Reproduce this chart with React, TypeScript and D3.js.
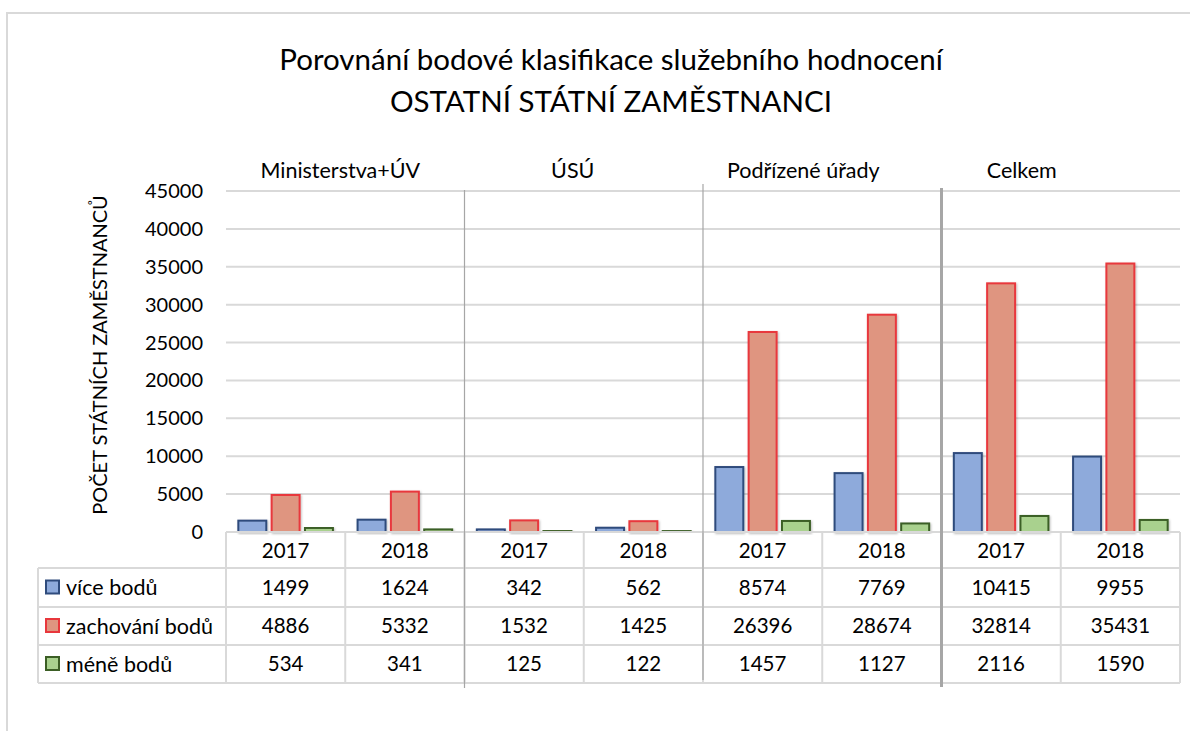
import React from "react";
import * as d3 from "d3";

const groups = ["Ministerstva+ÚV", "ÚSÚ", "Podřízené úřady", "Celkem"];
const years = ["2017", "2018"];
const seriesNames = ["více bodů", "zachování bodů", "méně bodů"];
const viceBodu = [1499, 1624, 342, 562, 8574, 7769, 10415, 9955];
const zachovaniBodu = [4886, 5332, 1532, 1425, 26396, 28674, 32814, 35431];
const meneBodu = [534, 341, 125, 122, 1457, 1127, 2116, 1590];
const yTicks = [0, 5000, 10000, 15000, 20000, 25000, 30000, 35000, 40000, 45000];
const titleLines = ["Porovnání bodové klasifikace služebního hodnocení", "OSTATNÍ STÁTNÍ ZAMĚSTNANCI"];
const yTitle = "POČET STÁTNÍCH ZAMĚSTNANCŮ";

const seriesValues = [viceBodu, zachovaniBodu, meneBodu];
const fills = ["#8eaadb", "#df9580", "#a9d18e"];
const strokes = ["#2f4b7c", "#e8373c", "#3b5e25"];

export default function App() {
  const W = 1190, H = 731;
  const left = 226, right = 1180, top = 191, bottom = 532;
  const font = "Lato, 'Open Sans', sans-serif";
  const cols = d3.range(groups.length * years.length);
  const x = d3.scaleBand<number>().domain(cols).range([left, right]).paddingInner(0).paddingOuter(0);
  const xs = d3.scaleBand<number>().domain([0, 1, 2]).range([0, x.bandwidth()]).paddingInner(0.16).paddingOuter(0.37);
  const y = d3.scaleLinear().domain([0, 45000]).range([bottom, top]);
  const rowBounds = [532, 568, 607, 645, 683];
  const legendLeft = 38;
  const groupLabelOffset = [-5, -11, -19, -39];
  const sepStyles = [
    { w: 1.2, c: "#a6a6a6", y0: 190, y1: 688 },
    { w: 1.2, c: "#a6a6a6", y0: 184, y1: 680 },
    { w: 3, c: "#a6a6a6", y0: 188, y1: 687 },
  ];
  const grid = "#d9d9d9";

  return (
    <svg width={W} height={H} style={{ position: "absolute", left: 0, top: 0, background: "#fff" }} fontFamily={font}>
      <defs>
        <filter id="sh" x="-20%" y="-20%" width="140%" height="140%">
          <feDropShadow dx="1" dy="1" stdDeviation="1.2" floodColor="#000" floodOpacity="0.25" />
        </filter>
      </defs>
      <rect x={7} y={13} width={1200} height={740} fill="#fff" stroke={grid} strokeWidth={2} />
      {titleLines.map((t, i) => (
        <text key={i} x={611} y={70 + i * 42} textAnchor="middle" fontSize={29.5} fill="#000">{t}</text>
      ))}
      {/* gridlines */}
      {yTicks.map((t) => (
        <line key={t} x1={left} x2={right} y1={y(t)} y2={y(t)} stroke={grid} strokeWidth={2} />
      ))}
      {/* y tick labels */}
      {yTicks.map((t) => (
        <text key={"l" + t} x={203} y={y(t)} dy="0.35em" textAnchor="end" fontSize={20} fill="#000">{t}</text>
      ))}
      <text transform={`translate(100,355) rotate(-90)`} textAnchor="middle" dy="0.35em" fontSize={20} fill="#000">{yTitle}</text>
      {/* group labels */}
      {groups.map((g, gi) => {
        const cx = (x(gi * 2) as number) + x.bandwidth() + groupLabelOffset[gi];
        return <text key={g} x={cx} y={170} dy="0.35em" textAnchor="middle" fontSize={21.5} fill="#000">{g}</text>;
      })}
      {/* bars */}
      {seriesValues.map((vals, si) =>
        vals.map((v, ci) => (
          <rect key={si + "-" + ci}
            x={(x(ci) as number) + (xs(si) as number)}
            y={y(v)}
            width={xs.bandwidth()}
            height={bottom - y(v)}
            fill={fills[si]} stroke={strokes[si]} strokeWidth={2} filter="url(#sh)" />
        ))
      )}
      {/* table lines */}
      <line x1={left} x2={right} y1={rowBounds[0]} y2={rowBounds[0]} stroke={grid} strokeWidth={2} />
      {rowBounds.slice(1).map((r) => (
        <line key={"r" + r} x1={legendLeft} x2={right} y1={r} y2={r} stroke={grid} strokeWidth={2} />
      ))}
      {cols.concat([cols.length]).map((c) => {
        const xx = c < cols.length ? (x(c) as number) : right;
        return <line key={"v" + c} x1={xx} x2={xx} y1={rowBounds[0]} y2={rowBounds[4]} stroke={grid} strokeWidth={2} />;
      })}
      <line x1={legendLeft} x2={legendLeft} y1={rowBounds[1]} y2={rowBounds[4]} stroke={grid} strokeWidth={2} />
      {/* year header */}
      {cols.map((c) => (
        <text key={"y" + c} x={(x(c) as number) + x.bandwidth() / 2} y={(rowBounds[0] + rowBounds[1]) / 2 + 1} dy="0.35em" textAnchor="middle" fontSize={20.5} fill="#000">{years[c % 2]}</text>
      ))}
      {/* table values */}
      {seriesValues.map((vals, si) => (
        <g key={"t" + si}>
          <rect x={46} y={(rowBounds[si + 1] + rowBounds[si + 2]) / 2 - 7} width={13} height={13} fill={fills[si]} stroke={strokes[si]} strokeWidth={2} />
          <text x={66} y={(rowBounds[si + 1] + rowBounds[si + 2]) / 2} dy="0.35em" fontSize={21.5} fill="#000">{seriesNames[si]}</text>
          {vals.map((v, ci) => (
            <text key={ci} x={(x(ci) as number) + x.bandwidth() / 2} y={(rowBounds[si + 1] + rowBounds[si + 2]) / 2} dy="0.35em" textAnchor="middle" fontSize={20.5} fill="#000">{v}</text>
          ))}
        </g>
      ))}
      {/* group separators */}
      {[1, 2, 3].map((gi, k) => {
        const xx = x(gi * 2) as number;
        const s = sepStyles[k];
        return <line key={"s" + gi} x1={xx} x2={xx} y1={s.y0} y2={s.y1} stroke={s.c} strokeWidth={s.w} />;
      })}
    </svg>
  );
}
